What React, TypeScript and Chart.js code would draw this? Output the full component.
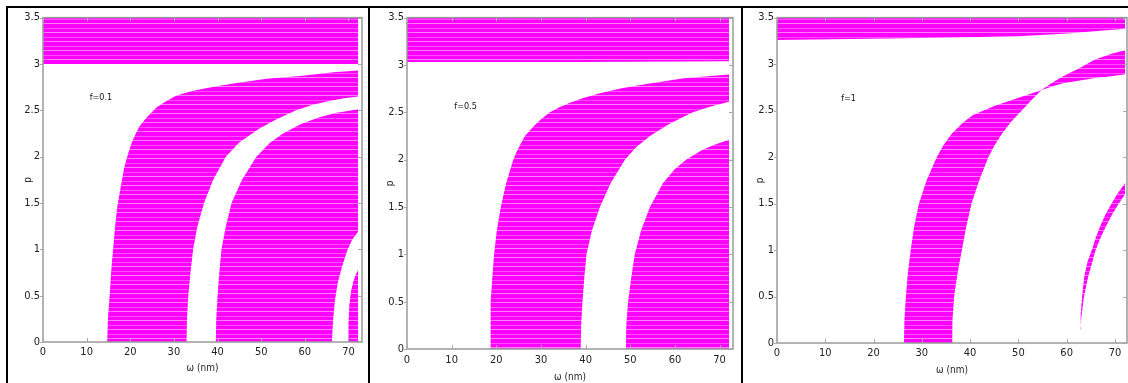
import React, { useEffect, useRef } from "react";
import { Chart, registerables } from "chart.js";

Chart.register(...registerables);

type Pt = [number, number]; // [omega (nm), p]

// ---------- Panel 1 : f = 0.1 ----------
const P1_TOP_LOW: Pt[] = [[0, 3.0], [72.2, 3.0]];
const P1_TOP_HIGH: Pt[] = [[0, 3.5], [72.2, 3.5]];
const P1_B_OUTER: Pt[] = [[14.7, 0], [14.9, 0.27], [15.3, 0.52], [15.7, 0.81], [16.1, 1.02], [16.5, 1.24], [17.0, 1.45], [17.8, 1.67], [18.6, 1.88], [19.5, 2.03], [20.5, 2.17], [22.0, 2.32], [23.7, 2.42], [26.0, 2.53], [28.3, 2.6], [30.6, 2.66], [34.4, 2.71], [39.8, 2.76], [45.1, 2.8], [51.3, 2.84], [58.9, 2.87], [66.6, 2.91], [72.2, 2.93]];
const P1_B_INNER: Pt[] = [[32.9, 0], [33.0, 0.25], [33.3, 0.5], [33.8, 0.75], [34.4, 1], [35.4, 1.25], [36.9, 1.5], [39.0, 1.75], [41.9, 2], [44.9, 2.15], [49.5, 2.3], [53.4, 2.4], [58, 2.5], [61.8, 2.56], [65.6, 2.6], [69, 2.63], [72.2, 2.65]];
const P1_C_OUTER: Pt[] = [[39.6, 0], [39.7, 0.25], [40.0, 0.5], [40.4, 0.75], [40.9, 1], [41.9, 1.25], [43.2, 1.5], [45.6, 1.75], [48.9, 2], [52, 2.15], [55, 2.25], [59, 2.35], [63, 2.42], [67, 2.47], [72.2, 2.51]];
const P1_C_INNER: Pt[] = [[66.2, 0], [66.5, 0.25], [66.9, 0.45], [67.6, 0.65], [68.5, 0.81], [69.6, 0.97], [70.8, 1.1], [72.2, 1.19]];
const P1_D_OUTER: Pt[] = [[69.9, 0], [70.0, 0.2], [70.2, 0.4], [70.6, 0.55], [71.1, 0.65], [71.6, 0.72], [72.2, 0.78]];
const P1_D_INNER: Pt[] = [[72.2, 0]];

// ---------- Panel 2 : f = 0.5 ----------
const P2_TOP_LOW: Pt[] = [[0, 3.03], [38, 3.03], [72.1, 3.04]];
const P2_TOP_HIGH: Pt[] = [[0, 3.5], [72.1, 3.5]];
const P2_B_OUTER: Pt[] = [[18.6, 0], [18.65, 0.25], [18.8, 0.5], [19.1, 0.75], [19.5, 1], [20.1, 1.25], [21.0, 1.5], [22.2, 1.75], [23.8, 2], [24.7, 2.1], [26.4, 2.25], [28.3, 2.35], [29.9, 2.42], [32, 2.5], [34, 2.55], [36.5, 2.6], [39.5, 2.65], [43.2, 2.7], [47.8, 2.75], [53.6, 2.8], [62, 2.86], [72.1, 2.9]];
const P2_B_INNER: Pt[] = [[38.9, 0], [39.0, 0.25], [39.3, 0.5], [39.7, 0.75], [40.2, 1], [41.4, 1.25], [43.2, 1.5], [45.6, 1.75], [48.8, 2], [51.3, 2.13], [54.4, 2.25], [58.5, 2.37], [64, 2.5], [68, 2.56], [72.1, 2.61]];
const P2_C_OUTER: Pt[] = [[49, 0], [49.1, 0.25], [49.5, 0.5], [50.2, 0.75], [51, 1], [52.4, 1.25], [54.4, 1.5], [57.3, 1.75], [60, 1.9], [62.5, 2], [66, 2.1], [69, 2.16], [72.1, 2.21]];
const P2_C_INNER: Pt[] = [[72.1, 0]];

// ---------- Panel 3 : f = 1 ----------
const P3_TOP_LOW: Pt[] = [[0, 3.26], [30, 3.28], [50, 3.3], [60, 3.33], [72.1, 3.38]];
const P3_TOP_HIGH: Pt[] = [[0, 3.5], [72.1, 3.5]];
const P3_B_OUTER: Pt[] = [[26.3, 0], [26.4, 0.25], [26.7, 0.5], [27.1, 0.75], [27.7, 1], [28.4, 1.25], [29.4, 1.5], [31, 1.75], [33.1, 2], [34.5, 2.13], [36.2, 2.25], [38.5, 2.37], [40.5, 2.45], [42.8, 2.5], [45, 2.55], [47.9, 2.6], [51.3, 2.66], [54.8, 2.72], [57, 2.8], [59, 2.86], [60.8, 2.91], [62.4, 2.95], [65.9, 3.05], [69.3, 3.11], [72.1, 3.15]];
const P3_B_INNER: Pt[] = [[36.3, 0], [36.35, 0.25], [36.7, 0.5], [37.4, 0.75], [38.3, 1], [39.2, 1.25], [40.3, 1.5], [41.9, 1.75], [43.8, 2], [45.1, 2.13], [46.6, 2.25], [48.5, 2.38], [50.7, 2.5], [52.5, 2.6], [54.8, 2.72], [57, 2.76], [59, 2.79], [62.4, 2.82], [65.9, 2.85], [69.3, 2.87], [72.1, 2.89]];
const P3_C_LEFT: Pt[] = [[62.8, 0.14], [62.9, 0.3], [63.2, 0.5], [63.6, 0.7], [64.3, 0.87], [65.2, 1], [66, 1.13], [66.9, 1.25], [68, 1.38], [69.3, 1.5], [70.6, 1.61], [72.1, 1.72]];
const P3_C_RIGHT: Pt[] = [[62.8, 0.14], [63.1, 0.3], [63.6, 0.5], [64.4, 0.7], [65.2, 0.85], [66.0, 1], [67.0, 1.13], [68.1, 1.25], [69.4, 1.38], [70.8, 1.5], [72.1, 1.6]];

// ---------- Ticks / labels ----------
const X_TICKS = [0, 10, 20, 30, 40, 50, 60, 70];
const Y_TICKS = [0, 0.5, 1, 1.5, 2, 2.5, 3, 3.5];
const X_TITLE = "ω (nm)";
const Y_TITLE = "p";
const PANEL_LABELS = ["f=0.1", "f=0.5", "f=1"];
const LABEL_POS: Pt[] = [[10.7, 2.64], [10.6, 2.56], [13.3, 2.63]];
const X_MAX = [73.1, 73, 72.5];
const Y_MAX = 3.5;

const PANEL_BANDS: [Pt[], Pt[]][][] = [
  [[P1_TOP_LOW, P1_TOP_HIGH], [P1_B_OUTER, P1_B_INNER], [P1_C_OUTER, P1_C_INNER], [P1_D_OUTER, P1_D_INNER]],
  [[P2_TOP_LOW, P2_TOP_HIGH], [P2_B_OUTER, P2_B_INNER], [P2_C_OUTER, P2_C_INNER]],
  [[P3_TOP_LOW, P3_TOP_HIGH], [P3_B_OUTER, P3_B_INNER], [P3_C_LEFT, P3_C_RIGHT]],
];

const FONT = "'Liberation Sans Narrow', 'DejaVu Sans Condensed', 'Liberation Sans', sans-serif";

// layout geometry (canvas-local), not data
const GEOM = [
  { left: 8, width: 360, pad: { left: 0, right: 6, top: 9, bottom: 0 }, yW: 35, xH: 41, yTitlePad: 14, xTitlePad: 9, xTickPad: 4 },
  { left: 370, width: 371, pad: { left: 0, right: 8, top: 9, bottom: 0 }, yW: 37, xH: 34, yTitlePad: 14, xTitlePad: 0, xTickPad: 5 },
  { left: 743, width: 385, pad: { left: 0, right: 1, top: 7, bottom: 0 }, yW: 34, xH: 40, yTitlePad: 11, xTitlePad: 7, xTickPad: 4 },
];

function bandPolygon(a: Pt[], b: Pt[]) {
  return [...a, ...b.slice().reverse()].map(([x, y]) => ({ x, y }));
}

function makePattern(): CanvasPattern | string {
  const c = document.createElement("canvas");
  c.width = 8;
  c.height = 9;
  const g = c.getContext("2d");
  if (!g) return "#ff00ff";
  g.fillStyle = "#ff00ff";
  g.fillRect(0, 0, 8, 9);
  g.fillStyle = "#ff4dff";
  g.fillRect(0, 2, 8, 1);
  g.fillStyle = "#ff80ff";
  g.fillRect(0, 6, 8, 1);
  return g.createPattern(c, "repeat") || "#ff00ff";
}

const framePlugin = {
  id: "frame",
  afterDatasetsDraw(chart: any, _args: any, opts: any) {
    const { ctx, chartArea: a, scales } = chart;
    const xs = scales.x;
    const ys = scales.y;
    ctx.save();
    ctx.strokeStyle = "#9a9a9a";
    ctx.lineWidth = 1.5;
    ctx.strokeRect(a.left, a.top, a.right - a.left, a.bottom - a.top);
    ctx.lineWidth = 1;
    ctx.strokeStyle = "#a8a8a8";
    ctx.beginPath();
    for (const v of X_TICKS) {
      const px = Math.round(xs.getPixelForValue(v)) + 0.5;
      ctx.moveTo(px, a.bottom);
      ctx.lineTo(px, a.bottom - 4);
      ctx.moveTo(px, a.top);
      ctx.lineTo(px, a.top + 4);
    }
    for (const v of Y_TICKS) {
      const py = Math.round(ys.getPixelForValue(v)) + 0.5;
      ctx.moveTo(a.left, py);
      ctx.lineTo(a.left - 3, py);
      ctx.moveTo(a.right, py);
      ctx.lineTo(a.right - 4, py);
    }
    ctx.stroke();
    ctx.fillStyle = "#111";
    ctx.font = `9px ${FONT}`;
    ctx.textBaseline = "middle";
    ctx.textAlign = "left";
    ctx.fillText(opts.text, xs.getPixelForValue(opts.x), ys.getPixelForValue(opts.y));
    ctx.restore();
  },
};

function Panel({ idx }: { idx: number }) {
  const ref = useRef<HTMLCanvasElement>(null);
  const g = GEOM[idx];
  useEffect(() => {
    if (!ref.current) return;
    const pattern = makePattern();
    const datasets = PANEL_BANDS[idx].map(([a, b]) => ({
      data: bandPolygon(a, b),
      showLine: true,
      fill: "shape",
      borderWidth: 0,
      borderColor: "rgba(0,0,0,0)",
      backgroundColor: pattern,
      pointRadius: 0,
      pointHoverRadius: 0,
      tension: 0,
    }));
    const tickFont = { family: FONT, size: 11 };
    const chart = new Chart(ref.current, {
      type: "line",
      data: { datasets: datasets as any },
      plugins: [framePlugin],
      options: {
        animation: false,
        responsive: false,
        devicePixelRatio: 1,
        events: [],
        layout: { padding: g.pad },
        plugins: {
          legend: { display: false },
          tooltip: { enabled: false },
          frame: { text: PANEL_LABELS[idx], x: LABEL_POS[idx][0], y: LABEL_POS[idx][1] },
        } as any,
        scales: {
          x: {
            type: "linear",
            min: 0,
            max: X_MAX[idx],
            border: { display: false },
            grid: { display: false, drawTicks: false },
            afterBuildTicks: (s: any) => {
              s.ticks = X_TICKS.map((v) => ({ value: v }));
            },
            afterFit: (s: any) => {
              s.height = g.xH;
            },
            ticks: { autoSkip: false, maxRotation: 0, padding: g.xTickPad, color: "#222", font: tickFont, callback: (v: any) => String(v) },
            title: { display: true, text: X_TITLE, color: "#222", font: { family: FONT, size: 10 }, padding: { top: 0, bottom: g.xTitlePad } },
          },
          y: {
            type: "linear",
            min: 0,
            max: Y_MAX,
            border: { display: false },
            grid: { display: false, drawTicks: false },
            afterBuildTicks: (s: any) => {
              s.ticks = Y_TICKS.map((v) => ({ value: v }));
            },
            afterFit: (s: any) => {
              s.width = g.yW;
            },
            ticks: { autoSkip: false, padding: 3, color: "#222", font: tickFont, callback: (v: any) => String(v) },
            title: { display: true, text: Y_TITLE, color: "#222", font: { family: FONT, size: 10 }, padding: { top: g.yTitlePad, bottom: 0 } },
          },
        },
      } as any,
    });
    return () => chart.destroy();
  }, [idx]);
  return (
    <canvas
      ref={ref}
      width={g.width}
      height={375}
      style={{ position: "absolute", left: g.left, top: 8, width: g.width, height: 375 }}
    />
  );
}

export default function App() {
  const line = (style: React.CSSProperties) => (
    <div style={{ position: "absolute", background: "#000", ...style }} />
  );
  return (
    <div style={{ position: "fixed", left: 0, top: 0, width: 1128, height: 383, background: "#fff", overflow: "hidden" }}>
      {line({ left: 6, top: 6, width: 1122, height: 2 })}
      {line({ left: 6, top: 6, width: 2, height: 377 })}
      {line({ left: 368, top: 6, width: 2, height: 377 })}
      {line({ left: 741, top: 6, width: 2, height: 377 })}
      <Panel idx={0} />
      <Panel idx={1} />
      <Panel idx={2} />
    </div>
  );
}
